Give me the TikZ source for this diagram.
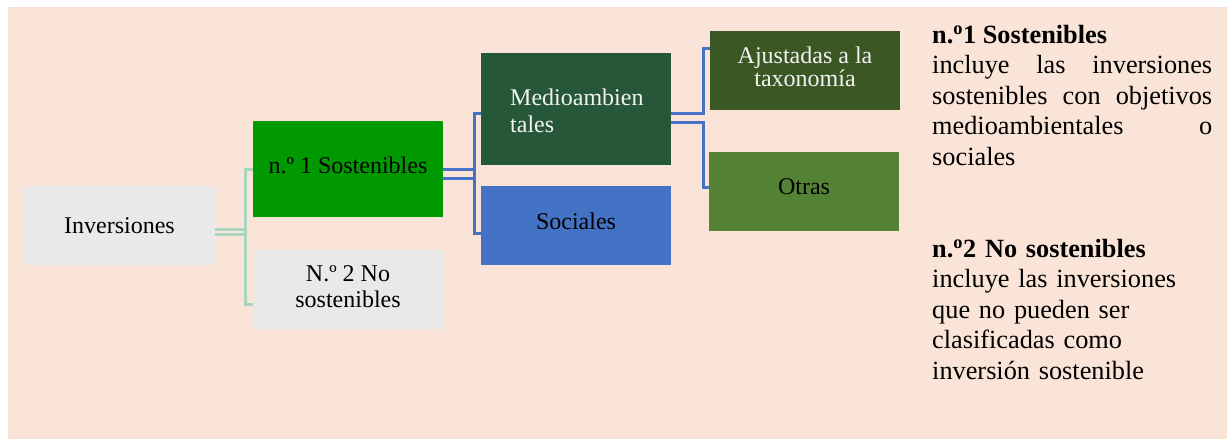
\documentclass[tikz,border=0pt]{standalone}
\usepackage{fontspec}
\setmainfont{Liberation Serif}
\definecolor{peach}{HTML}{FAE4D8}
\definecolor{lgray}{HTML}{E8E9E8}
\definecolor{brightgreen}{HTML}{009900}
\definecolor{darkgreen}{HTML}{265739}
\definecolor{bluebox}{HTML}{4472C4}
\definecolor{olive}{HTML}{3B5724}
\definecolor{midgreen}{HTML}{548235}
\definecolor{lightline}{HTML}{A8D5C0}
\definecolor{blueline}{HTML}{4472C4}
\definecolor{whitetext}{HTML}{F2F2F2}
\tikzset{
  box/.style={draw=none, minimum width=190pt, inner sep=0pt, align=center, font=\fontsize{24}{27}\selectfont},
  glink/.style={draw=lightline, line width=3pt},
  blink/.style={draw=blueline, line width=3pt},
  side/.style={anchor=north west, text width=280pt, align=justify, inner sep=0pt, font=\fontsize{26.3}{30.5}\selectfont},
}
\begin{document}
\begin{tikzpicture}[x=1pt,y=-1pt]
\useasboundingbox (0,0) rectangle (1227,439);
\fill[white] (0,0) rectangle (1227,439);
\fill[peach] (8,7) rectangle (1227,439);

% boxes
\fill[lgray] (24,186) rectangle (215,265);
\node[box] (inv) at (119.5,225.5) {Inversiones};
\fill[brightgreen] (253,121) rectangle (443,217);
\node[box] (n1) at (348,165) {n.º 1 Sostenibles};
\fill[lgray] (253,250) rectangle (443,329);
\node[box, font=\fontsize{24}{26}\selectfont] (n2) at (348,287) {N.º 2 No\\sostenibles};
\fill[darkgreen] (481,53) rectangle (671,165);
\node[box, minimum width=0pt, align=left, text=whitetext, font=\fontsize{24}{27}\selectfont, anchor=west] (med) at (510,111) {Medioambien\\tales};
\fill[bluebox] (481,186) rectangle (671,265);
\node[box] (soc) at (576,221) {Sociales};
\fill[olive] (710,31) rectangle (900,110);
\node[box, text=whitetext, font=\fontsize{24}{23}\selectfont] (aju) at (805,67) {Ajustadas a la\\taxonomía};
\fill[midgreen] (709,152) rectangle (899,231);
\node[box] (otr) at (804,187) {Otras};

% named anchor coordinates for connectors
\coordinate (invR1) at (215,229);
\coordinate (invR2) at (215,234);
\coordinate (n1L) at (253,169);
\coordinate (n2L) at (253,304);
\coordinate (n1R1) at (443,169);
\coordinate (n1R2) at (443,178);
\coordinate (medL) at (481,113);
\coordinate (socL) at (481,233);
\coordinate (medR1) at (671,113);
\coordinate (medR2) at (671,122);
\coordinate (ajuL) at (710,48);
\coordinate (otrL) at (709,187);

% light green connectors
\draw[glink] (invR1) -- (245,229);
\draw[glink] (invR2) -- (245,234);
\draw[glink] (n1L) -- (245,169) -- (245,304) -- (n2L);

% blue connectors
\draw[blink] (n1R1) -- (474,169);
\draw[blink] (n1R2) -- (474,178);
\draw[blink] (medL) -- (474,113) -- (474,233) -- (socL);
\draw[blink] (medR1) -- (703,113) -- (703,48) -- (ajuL);
\draw[blink] (medR2) -- (703,122) -- (703,187) -- (otrL);

% side text
\node[side] (t1) at (932,25) {\textbf{n.\textsuperscript{o}1 Sostenibles}\\ incluye las inversiones\linebreak sostenibles con objetivos\linebreak medioambientales o\linebreak sociales};
\node[side, align=left] (t2) at (932,239) {\textbf{n.\textsuperscript{o}2 No sostenibles}\\ incluye las inversiones\\ que no pueden ser\\ clasificadas como\\ inversión sostenible};
\end{tikzpicture}
\end{document}
